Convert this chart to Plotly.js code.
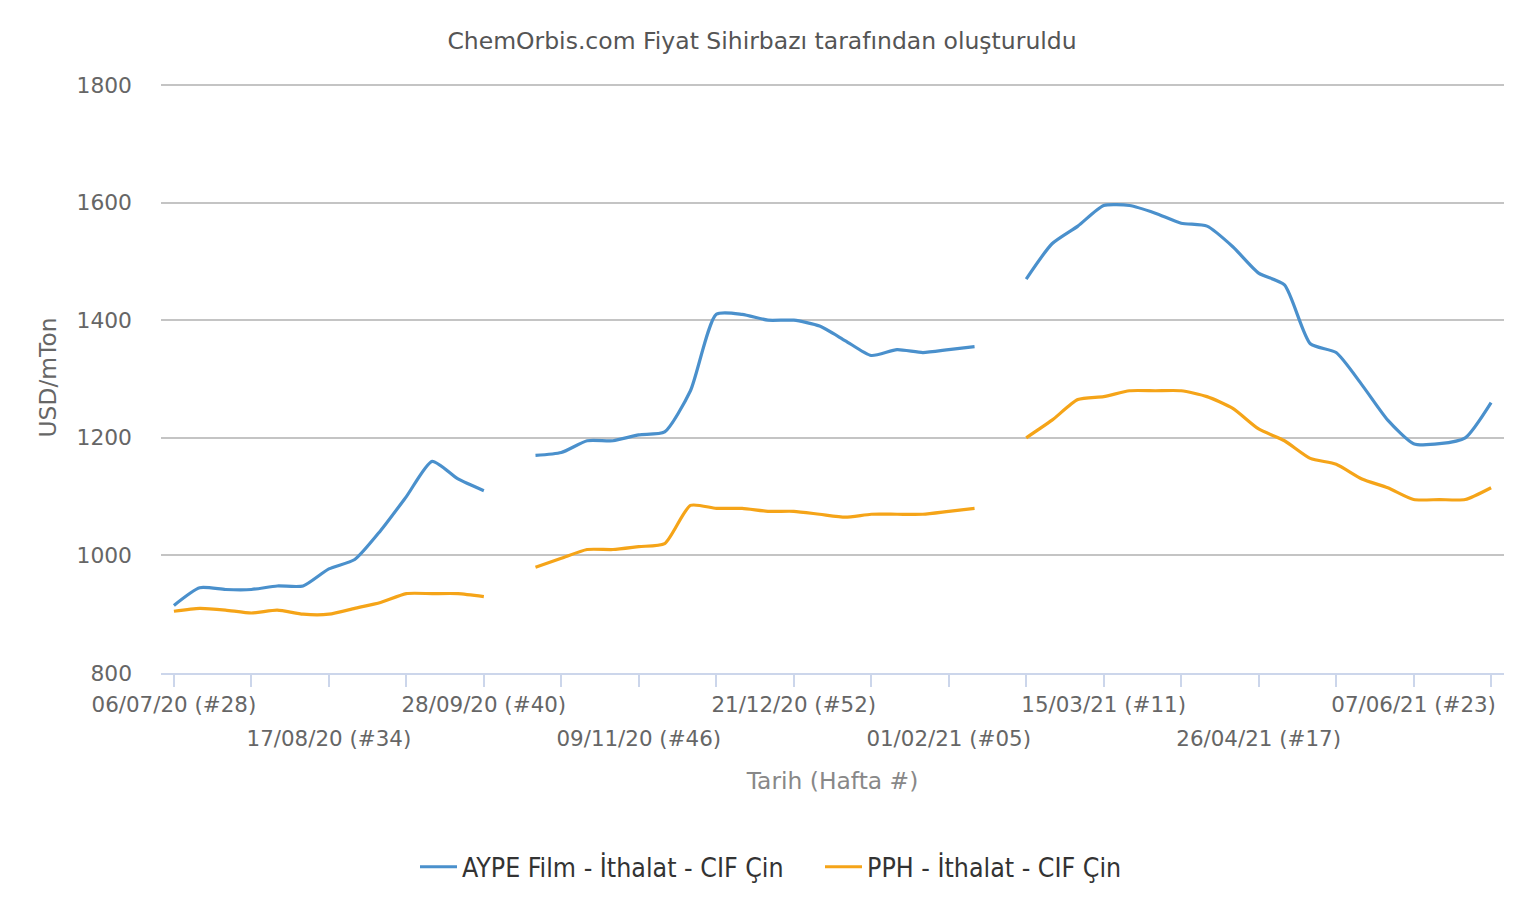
<!DOCTYPE html>
<html>
<head>
<meta charset="utf-8">
<script src="https://cdn.plot.ly/plotly-3.0.1.min.js"></script>
<style>
  html, body { margin: 0; padding: 0; background: #fff; }
  #price-plot { width: 1524px; height: 913px; }
</style>
</head>
<body>
<div id="price-plot"></div>
<script>
// Weekly dates, 06/07/20 (#28) .. 28/06/21 (#26)
var weeks = [
  '2020-07-06','2020-07-13','2020-07-20','2020-07-27','2020-08-03','2020-08-10','2020-08-17',
  '2020-08-24','2020-08-31','2020-09-07','2020-09-14','2020-09-21','2020-09-28','2020-10-05',
  '2020-10-12','2020-10-19','2020-10-26','2020-11-02','2020-11-09','2020-11-16','2020-11-23',
  '2020-11-30','2020-12-07','2020-12-14','2020-12-21','2020-12-28','2021-01-04','2021-01-11',
  '2021-01-18','2021-01-25','2021-02-01','2021-02-08','2021-02-15','2021-02-22','2021-03-01',
  '2021-03-08','2021-03-15','2021-03-22','2021-03-29','2021-04-05','2021-04-12','2021-04-19',
  '2021-04-26','2021-05-03','2021-05-10','2021-05-17','2021-05-24','2021-05-31','2021-06-07',
  '2021-06-14','2021-06-21','2021-06-28'
];

// USD/mTon, null = no price that week
var aype = [
  915, 945, 942, 942, 948, 948, 977, 993, 1042, 1100, 1160, 1130, 1110, null,
  1170, 1175, 1195, 1195, 1205, 1210, 1280, 1410, 1410, 1400, 1400, 1390, 1365, 1340,
  1350, 1345, 1350, 1355, null,
  1470, 1530, 1560, 1595, 1595, 1582, 1565, 1560, 1525, 1480, 1460, 1360, 1345, 1290,
  1230, 1190, 1190, 1200, 1260
];

var pph = [
  905, 910, 907, 902, 907, 900, 900, 910, 920, 935, 935, 935, 930, null,
  980, 995, 1010, 1010, 1015, 1020, 1085, 1080, 1080, 1075, 1075, 1070, 1065, 1070,
  1070, 1070, 1075, 1080, null,
  1200, 1230, 1265, 1270, 1280, 1280, 1280, 1270, 1250, 1215, 1195, 1165, 1155, 1130,
  1115, 1095, 1095, 1095, 1115
];

// x ticks every 3 weeks, labels every 6 weeks on two alternating rows
var tickDates = [
  '2020-07-06','2020-07-27','2020-08-17','2020-09-07','2020-09-28','2020-10-19',
  '2020-11-09','2020-11-30','2020-12-21','2021-01-11','2021-02-01','2021-02-22',
  '2021-03-15','2021-04-05','2021-04-26','2021-05-17','2021-06-07','2021-06-28'
];
var row1Dates = ['2020-07-06','2020-09-28','2020-12-21','2021-03-15','2021-06-07'];
var row1Labels = ['06/07/20 (#28)','28/09/20 (#40)','21/12/20 (#52)','15/03/21 (#11)','07/06/21 (#23)'];
var row2Dates = ['2020-08-17','2020-11-09','2021-02-01','2021-04-26'];
var row2Labels = ['17/08/20 (#34)','09/11/20 (#46)','01/02/21 (#05)','26/04/21 (#17)'];

var seriesNames = ['AYPE Film - İthalat - CIF Çin', 'PPH - İthalat - CIF Çin'];

function draw_price_plot(){
    var font = 'DejaVu Sans, sans-serif';
    var xRange = ['2020-07-02 12:00', '2021-07-01 12:00'];

    var tickText = tickDates.map(function(d){
        var i = row1Dates.indexOf(d);
        return i >= 0 ? row1Labels[i] : '';
    });

    var trace1 = {
        x: weeks,
        y: aype,
        type: 'scatter',
        mode: 'lines',
        name: seriesNames[0],
        connectgaps: false,
        line: { color: '#4a90cc', width: 3.2, shape: 'spline', smoothing: 0.6 },
        hoverinfo: 'x+y'
    };

    var trace2 = {
        x: weeks,
        y: pph,
        type: 'scatter',
        mode: 'lines',
        name: seriesNames[1],
        connectgaps: false,
        line: { color: '#f5a418', width: 3.2, shape: 'spline', smoothing: 0.6 },
        hoverinfo: 'x+y'
    };

    var data = [trace1, trace2];

    var layout = {
        width: 1524,
        height: 913,
        paper_bgcolor: '#ffffff',
        plot_bgcolor: '#ffffff',
        margin: { l: 161, r: 20, t: 82, b: 240 },   // 3px headroom so the 1800 grid line is kept
        font: { family: font, size: 21, color: '#666666' },
        title: {
            text: 'ChemOrbis.com Fiyat Sihirbazı tarafından oluşturuldu',
            font: { family: font, size: 23.5, color: '#555555' },
            x: 0.5, xref: 'container', xanchor: 'center',
            y: 1 - 41 / 913, yref: 'container', yanchor: 'middle'
        },
        xaxis: {
            type: 'date',
            range: xRange,
            tickmode: 'array',
            tickvals: tickDates,
            ticktext: tickText,
            ticks: 'outside',
            ticklen: 12,
            tickwidth: 1.5,
            tickcolor: '#ccd6eb',
            showline: true,
            linecolor: '#ccd6eb',
            linewidth: 1.5,
            showgrid: false,
            zeroline: false,
            tickfont: { family: font, size: 21.4, color: '#666666' },
            title: {
                text: 'Tarih (Hafta #)',
                font: { family: font, size: 23.4, color: '#888888' },
                standoff: 56
            }
        },
        xaxis2: {
            type: 'date',
            overlaying: 'x',
            anchor: 'y',
            side: 'bottom',
            range: xRange,
            tickmode: 'array',
            tickvals: row2Dates,
            ticktext: row2Labels,
            ticks: '',
            ticklabelstandoff: 51,
            showline: false,
            showgrid: false,
            zeroline: false,
            tickfont: { family: font, size: 21.4, color: '#666666' }
        },
        yaxis: {
            range: [800, 1805.1],
            dtick: 200,
            tick0: 800,
            showgrid: true,
            gridcolor: '#c4c4c4',
            gridwidth: 1.5,
            zeroline: false,
            showline: false,
            ticks: '',
            ticklabelstandoff: 28,
            tickfont: { family: font, size: 21.8, color: '#666666' },
            title: {
                text: 'USD/mTon',
                font: { family: font, size: 23.4, color: '#666666' },
                standoff: 13
            }
        },
        showlegend: true,
        legend: {
            orientation: 'h',
            x: 415 / 1524, xref: 'container', xanchor: 'left',
            y: 1 - 867 / 913, yref: 'container', yanchor: 'middle',
            font: { family: 'DejaVu Sans Condensed, DejaVu Sans, sans-serif', size: 26.5, color: '#333333' },
            itemwidth: 37,
            entrywidth: 353,
            entrywidthmode: 'pixels',
            tracegroupgap: 0
        }
    };

    // dummy trace to activate the second-row label axis
    data.push({
        x: [weeks[0]], y: [null], xaxis: 'x2', yaxis: 'y',
        type: 'scatter', mode: 'lines', showlegend: false, hoverinfo: 'skip'
    });

    var additional_param = {
        displaylogo: false,
        displayModeBar: false
    };

    var plotDiv = document.getElementById('price-plot');
    if(plotDiv)
    {
        Plotly.newPlot('price-plot', data, layout, additional_param);
    }
};

draw_price_plot();
</script>
</body>
</html>
